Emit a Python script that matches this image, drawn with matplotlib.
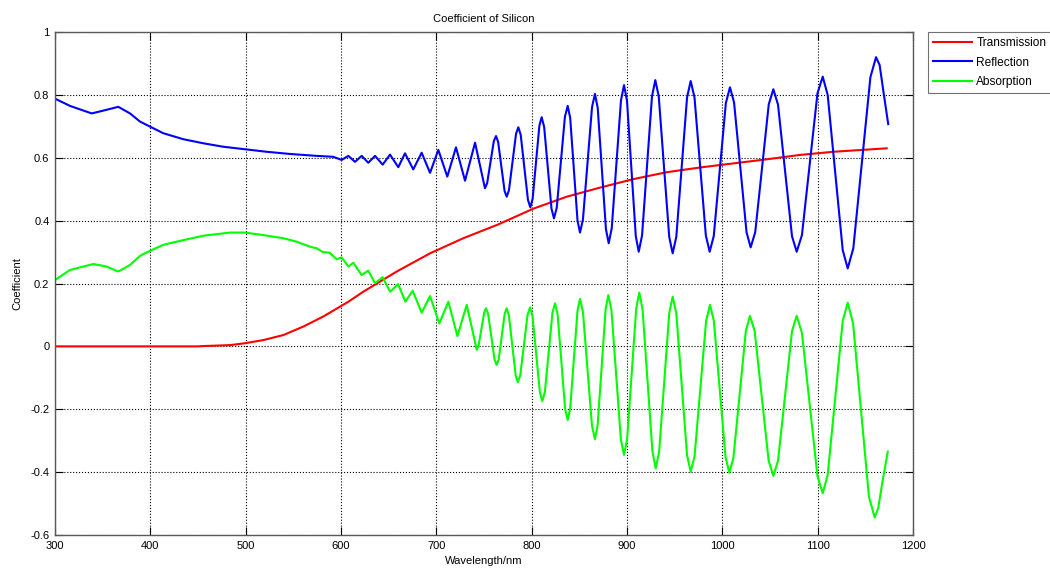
#!/usr/bin/env python3

import matplotlib
matplotlib.use("Agg")
import matplotlib.pyplot as plt
import numpy as np

# values (wavelength in nm)
trans_wl = [300, 450, 455.6, 483.6, 499.3, 518.5, 539.5, 560.5, 581.4, 607.7,
            623.4, 658.4, 693.4, 728.3, 765, 801.7, 836.7, 871.7, 906.6, 941.6,
            976.6, 1011.5, 1046.5, 1081.5, 1116.4, 1172.4]
trans = [0, 0, 0.001, 0.004, 0.010, 0.020, 0.036, 0.063, 0.095, 0.142,
         0.174, 0.238, 0.296, 0.344, 0.388, 0.438, 0.476, 0.505, 0.532, 0.554,
         0.569, 0.582, 0.595, 0.609, 0.619, 0.630]

refl_wl = [300, 315.7, 338.5, 350.7, 366.4, 378.7, 389.2, 399.7, 413.6, 434.6,
           455.6, 476.5, 499.3, 522.1, 546.5, 574.5, 591.9, 600.7, 607.7, 614.7,
           621.7, 628.6, 635.7, 643.7, 651.4, 660.1, 667.1, 675.8, 684.6, 693.4,
           702.1, 711.5, 720.6, 730.1, 740.6,
           751.0, 753.3, 760.3, 762.6, 764.8, 771.6, 773.8, 776.2, 783.6,
           786.0, 788.5, 796.1, 798.6, 801.0, 808.1, 810.5, 813.1, 820.8,
           823.4, 826.3, 834.9, 837.8, 840.4, 848.1, 850.7, 853.8, 863.3,
           866.4, 869.3, 877.9, 880.8, 884.0, 893.7, 896.9, 900.0, 909.2,
           912.3, 915.8, 926.2, 929.7, 933.3, 944.3, 947.9, 951.7, 963.0,
           966.8, 970.8, 982.7, 986.7, 991.0, 1003.7, 1008.0, 1012.3, 1025.4,
           1029.7, 1034.5, 1048.7, 1053.5, 1058.4, 1073.1, 1078.0, 1083.5, 1099.8,
           1105.3, 1110.5, 1126.3, 1131.5, 1137.4, 1155.3, 1161.2, 1165, 1169, 1174]
refl = [0.788, 0.765, 0.741, 0.750, 0.762, 0.741, 0.715, 0.699, 0.678, 0.659,
        0.646, 0.635, 0.627, 0.619, 0.612, 0.606, 0.603, 0.593, 0.606, 0.587,
        0.606, 0.584, 0.606, 0.578, 0.610, 0.570, 0.614, 0.563, 0.616, 0.552,
        0.625, 0.540, 0.633, 0.527, 0.648,
        0.503, 0.519, 0.653, 0.669, 0.651, 0.494, 0.476, 0.497, 0.676,
        0.697, 0.673, 0.466, 0.442, 0.469, 0.702, 0.729, 0.698, 0.438,
        0.407, 0.441, 0.731, 0.765, 0.727, 0.400, 0.362, 0.404, 0.761,
        0.803, 0.758, 0.373, 0.328, 0.376, 0.783, 0.831, 0.781, 0.351,
        0.301, 0.353, 0.795, 0.847, 0.795, 0.348, 0.296, 0.348, 0.792,
        0.844, 0.792, 0.353, 0.301, 0.351, 0.774, 0.824, 0.776, 0.363,
        0.315, 0.363, 0.770, 0.818, 0.769, 0.350, 0.301, 0.354, 0.805,
        0.858, 0.800, 0.306, 0.248, 0.312, 0.856, 0.920, 0.895, 0.810, 0.707]

absorb_wl = [300, 315.7, 340.2, 354.2, 366.4, 378.7, 389.2, 399.7, 413.6, 434.6,
             455.6, 483.6, 499.3, 518.5, 539.5, 553.5, 567.5, 574.5, 581, 588,
             595.5, 600.7, 607.7, 613, 621.7, 628.6, 635.7, 643.7, 651.5, 660,
             667.5, 675.2, 684.6, 693.4, 703.1, 712.6, 722.1, 731.9,
             742.4, 744.3, 750.2, 752.1, 754.3, 761.1, 763.3, 765.4, 771.7,
             773.8, 776.1, 783.2, 785.5, 788.1, 795.7, 798.3, 800.9, 808.6,
             811.2, 813.9, 821.8, 824.5, 827.2, 835.1, 837.8, 840.4, 848.1,
             850.7, 853.8, 863.3, 866.4, 869.2, 877.6, 880.4, 883.7, 893.6,
             896.9, 900.1, 909.7, 912.9, 916.3, 926.7, 930.1, 933.7, 944.3,
             947.9, 951.7, 963.0, 966.8, 970.9, 983.0, 987.1, 991.1, 1003.3,
             1007.3, 1011.6, 1024.7, 1029.0, 1033.9, 1048.6, 1053.5, 1058.4, 1073.1,
             1078.0, 1083.5, 1099.8, 1105.3, 1110.5, 1126.3, 1131.5, 1137.1, 1153.8,
             1159.8, 1163.5, 1168, 1173.5]
absorb = [0.211, 0.243, 0.262, 0.254, 0.238, 0.259, 0.288, 0.304, 0.323, 0.338,
          0.352, 0.362, 0.362, 0.354, 0.344, 0.333, 0.317, 0.312, 0.300, 0.298,
          0.277, 0.283, 0.254, 0.266, 0.227, 0.241, 0.201, 0.220, 0.174, 0.198,
          0.142, 0.177, 0.107, 0.160, 0.073, 0.142, 0.033, 0.132,
          -0.011, 0.002, 0.108, 0.121, 0.104, -0.042, -0.059, -0.042, 0.104,
          0.121, 0.099, -0.092, -0.114, -0.091, 0.101, 0.124, 0.096, -0.146,
          -0.174, -0.144, 0.107, 0.137, 0.102, -0.199, -0.234, -0.197, 0.114,
          0.151, 0.109, -0.253, -0.295, -0.251, 0.119, 0.163, 0.115, -0.297,
          -0.345, -0.296, 0.122, 0.171, 0.118, -0.335, -0.388, -0.336, 0.106,
          0.158, 0.105, -0.346, -0.399, -0.349, 0.082, 0.132, 0.081, -0.351,
          -0.402, -0.355, 0.050, 0.097, 0.049, -0.364, -0.412, -0.364, 0.049,
          0.097, 0.043, -0.413, -0.467, -0.409, 0.081, 0.139, 0.074, -0.479,
          -0.544, -0.515, -0.430, -0.335]

xticks = np.arange(300, 1201, 100)
yticks = np.arange(-0.6, 1.01, 0.2)

plt.rcParams['font.family'] = ['Liberation Sans', 'DejaVu Sans']

fig = plt.figure(figsize=(10.5, 5.68), dpi=100)
ax = fig.add_axes([55 / 1050, 1 - 535 / 568, 858 / 1050, 503 / 568])

ax.plot(trans_wl, trans, color='#ff0000', linewidth=1.5, label='Transmission')
ax.plot(refl_wl, refl, color='#0000ff', linewidth=1.5, label='Reflection')
ax.plot(absorb_wl, absorb, color='#00ff00', linewidth=1.5, label='Absorption')

ax.set_xlim(300, 1200)
ax.set_ylim(-0.6, 1)
ax.set_xticks(xticks)
ax.set_yticks(yticks)
ax.set_yticklabels(['%g' % round(v, 1) for v in yticks])

ax.tick_params(direction='in', length=6, width=0.8, labelsize=8,
               top=True, right=True, pad=4)
for s in ax.spines.values():
    s.set_color('0.35')
    s.set_linewidth(1.0)

# matlab style dotted grid
ax.grid(True, linestyle=':', linewidth=0.8, color='black')
ax.set_axisbelow(True)

ax.set_title("Coefficient of Silicon", fontsize=8, pad=7)
ax.set_xlabel("Wavelength/nm", fontsize=8, labelpad=4)
ax.set_ylabel("Coefficient", fontsize=8, labelpad=6)

# legend sits outside the axes on the right, like the matlab figure
leg = ax.legend(loc='upper left', bbox_to_anchor=(873 / 858, 1.0), fontsize=8.6,
                frameon=True, fancybox=False, handlelength=3.2, labelspacing=0.6,
                borderaxespad=0, handletextpad=0.4, borderpad=0.45)
leg.get_frame().set_edgecolor('0.3')
leg.get_frame().set_linewidth(0.8)

plt.savefig("out.png", dpi=100)
